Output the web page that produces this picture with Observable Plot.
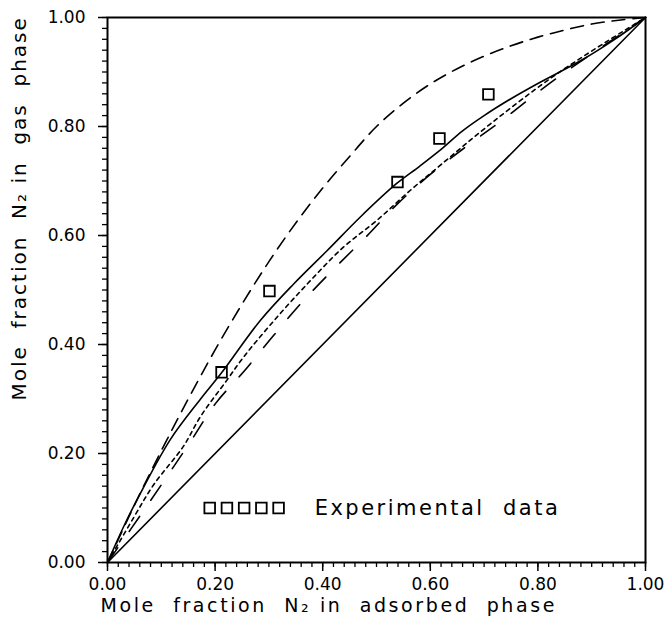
<!DOCTYPE html>
<html>
<head>
<meta charset="utf-8">
<script src="https://cdn.jsdelivr.net/npm/d3@7"></script>
<script src="https://cdn.jsdelivr.net/npm/@observablehq/plot@0.6"></script>
<style>
  html, body { margin: 0; padding: 0; background: white; }
  svg text { fill: black; }
</style>
</head>
<body>
<div id="chart"></div>
<script>
// ---- data ----
const xTicks = [0, 0.2, 0.4, 0.6, 0.8, 1.0];
const xTickLabels = ["0.00", "0.20", "0.40", "0.60", "0.80", "1.00"];
const yTicks = [0, 0.2, 0.4, 0.6, 0.8, 1.0];
const yTickLabels = ["0.00", "0.20", "0.40", "0.60", "0.80", "1.00"];
const minorStep = 0.02;

const xTitle = "Mole  fraction  N\u2082 in  adsorbed  phase";
const yTitle = "Mole  fraction  N\u2082 in  gas  phase";
const legendLabel = "Experimental  data";

// experimental points
const expX = [0.212, 0.301, 0.539, 0.617, 0.708];
const expY = [0.349, 0.498, 0.698, 0.778, 0.859];

// upper long-dash curve
const dashX = [0, 0.05, 0.10, 0.15, 0.20, 0.25, 0.30, 0.35, 0.40, 0.45, 0.50, 0.55, 0.60, 0.65, 0.70, 0.75, 0.80, 0.85, 0.90, 0.95, 1];
const dashY = [0, 0.105, 0.205, 0.300, 0.390, 0.474, 0.552, 0.623, 0.687, 0.745, 0.800, 0.843, 0.878, 0.906, 0.929, 0.948, 0.964, 0.977, 0.988, 0.995, 1];

// solid model curve
const solidX = [0, 0.033, 0.067, 0.117, 0.173, 0.212, 0.284, 0.346, 0.408, 0.470, 0.537, 0.580, 0.620, 0.660, 0.700, 0.750, 0.800, 0.880, 0.940, 1];
const solidY = [0, 0.072, 0.138, 0.226, 0.300, 0.348, 0.444, 0.511, 0.572, 0.634, 0.695, 0.727, 0.758, 0.792, 0.820, 0.851, 0.879, 0.921, 0.958, 1];

// short-dash (dotted) curve
const dotX = [0, 0.049, 0.086, 0.141, 0.173, 0.223, 0.253, 0.315, 0.377, 0.439, 0.501, 0.563, 0.620, 0.712, 0.836, 1];
const dotY = [0, 0.083, 0.143, 0.213, 0.268, 0.336, 0.377, 0.450, 0.517, 0.579, 0.628, 0.683, 0.730, 0.805, 0.897, 1];

// long-dash with wide gaps curve
const longX = [0, 0.074, 0.151, 0.201, 0.253, 0.309, 0.362, 0.421, 0.480, 0.538, 0.600, 0.665, 0.730, 0.830, 1];
const longY = [0, 0.105, 0.217, 0.292, 0.350, 0.417, 0.478, 0.539, 0.597, 0.657, 0.712, 0.762, 0.809, 0.885, 1];

// diagonal (non-selective) line
const diagX = [0, 1];
const diagY = [0, 1];

// legend
const legendCount = 5;
const legendStartX = 0.19, legendStepX = 0.032, legendY = 0.10, legendTextX = 0.385;

// ---- build tables ----
const pts = (xs, ys) => xs.map((x, i) => ({x, y: ys[i]}));
const minorTicks = d3.range(0, 1 + 1e-9, minorStep).map(v => +v.toFixed(2));
const legendSquares = d3.range(legendCount).map(i => ({x: legendStartX + i * legendStepX, y: legendY}));

const lineStyle = {x: "x", y: "y", stroke: "black", strokeWidth: 1.6, curve: "catmull-rom"};

const chart = Plot.plot({
  width: 666,
  height: 622,
  marginLeft: 107,
  marginRight: 21,
  marginTop: 17,
  marginBottom: 60,
  x: {domain: [0, 1]},
  y: {domain: [0, 1]},
  style: {fontFamily: "'DejaVu Sans', sans-serif", fontSize: "17px", color: "black", background: "white", overflow: "visible"},
  marks: [
    Plot.axisX(minorTicks, {tickSize: 5, tickFormat: () => "", label: null, strokeWidth: 1.3}),
    Plot.axisX(xTicks, {tickSize: 9, tickPadding: 6, tickFormat: d => xTickLabels[xTicks.indexOf(d)], label: null, strokeWidth: 1.5, fontSize: 17}),
    Plot.axisY(minorTicks, {tickSize: 5, tickFormat: () => "", label: null, strokeWidth: 1.3}),
    Plot.axisY(yTicks, {tickSize: 9, tickPadding: 13, tickFormat: d => yTickLabels[yTicks.indexOf(d)], label: null, strokeWidth: 1.5, fontSize: 17}),
    Plot.frame({stroke: "black", strokeWidth: 2}),
    Plot.line(pts(diagX, diagY), {x: "x", y: "y", stroke: "black", strokeWidth: 1.6}),
    Plot.line(pts(dashX, dashY), {...lineStyle, strokeDasharray: "13,8"}),
    Plot.line(pts(solidX, solidY), lineStyle),
    Plot.line(pts(dotX, dotY), {...lineStyle, strokeDasharray: "4,4"}),
    Plot.line(pts(longX, longY), {...lineStyle, strokeDasharray: "18,20"}),
    Plot.dot(pts(expX, expY), {x: "x", y: "y", symbol: "square", r: 6, stroke: "black", strokeWidth: 1.8, fill: "none"}),
    Plot.dot(legendSquares, {x: "x", y: "y", symbol: "square", r: 6, stroke: "black", strokeWidth: 1.8, fill: "none"}),
    Plot.text([legendLabel], {x: () => legendTextX, y: () => legendY, text: d => d, textAnchor: "start", fontSize: 21, fill: "black"}),
    Plot.text([xTitle], {frameAnchor: "bottom-left", text: d => d, textAnchor: "start", dx: -7, dy: 49, fontSize: 19, fill: "black"}),
    Plot.text([yTitle], {frameAnchor: "bottom-left", text: d => d, textAnchor: "start", rotate: -90, dx: -82, dy: -162, fontSize: 20, fill: "black"})
  ]
});
// widen the lettering of titles/legend to match the plotter font of the reference
chart.querySelectorAll("text").forEach(t => {
  const s = t.textContent;
  if (s === xTitle) t.style.letterSpacing = "2.6px";
  else if (s === yTitle) t.style.letterSpacing = "2px";
  else if (s === legendLabel) t.style.letterSpacing = "2.5px";
  if (s === xTitle || s === yTitle || s === legendLabel) t.style.whiteSpace = "pre";
});
document.getElementById("chart").appendChild(chart);
</script>
</body>
</html>
